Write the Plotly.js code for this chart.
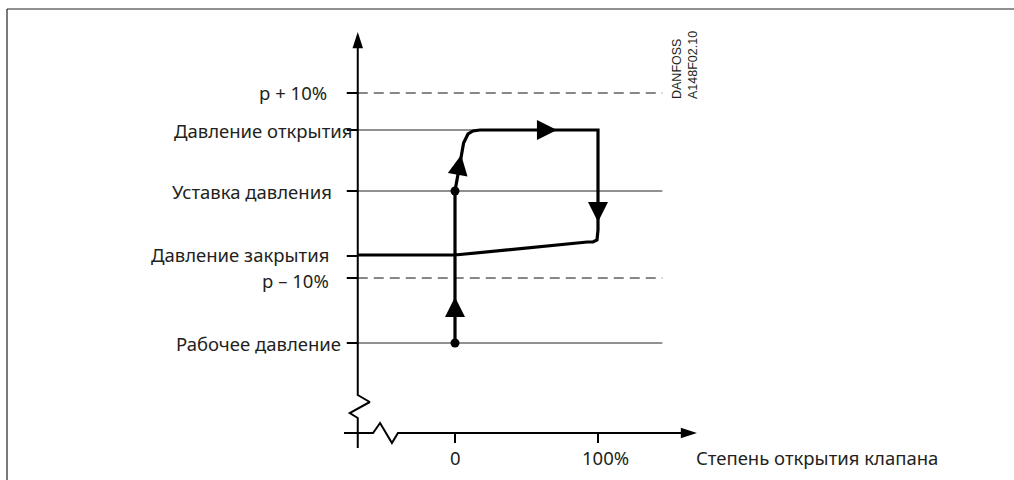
<!DOCTYPE html>
<html>
<head>
<meta charset="utf-8">
<script src="https://cdn.plot.ly/plotly-3.0.1.min.js"></script>
<style>html,body{margin:0;padding:0;background:#fff;}#chart{width:1014px;height:480px;}</style>
</head>
<body>
<div id="chart"></div>
<script>
// ---- data ----
const levelLabels = ['p + 10%', 'Давление открытия', 'Уставка давления', 'Давление закрытия', 'p – 10%', 'Рабочее давление'];
const levelValues = [250, 213, 152, 87, 65, 0];          // pressure levels (relative units)
const levelDashed = [true, false, false, false, true, false];
const levelLineEnd = [145, 18, 145, null, 145, 145];     // valve opening where the thin guide line ends

const valveTickValues = [0, 100];
const valveTickLabels = ['0', '100%'];
const xAxisTitle = 'Степень открытия клапана';

// hysteresis cycle: valve opening (%) vs pressure
const cycleOpening  = [0, 0, 4.9, 6.0, 9.1, 12.6, 17.5, 100, 100, 99.3, 96.5, 92.5, 0, -68];
const cyclePressure = [0, 152, 191, 200, 209, 212, 213, 213, 113, 103, 101, 101, 88, 88];
const cycleDotsX = [0, 0];
const cycleDotsY = [0, 152];

// ---- geometry of the drawing ----
const axisX = -68;           // valve opening where pressure axis sits
const axisY = -90;           // pressure where opening axis sits
const pxPerUnitX = 1.43;
const zeroPx = 455, basePx = 343;
const W = 1014, H = 480;
const xRange = [-zeroPx / pxPerUnitX, (W - zeroPx) / pxPerUnitX];
const yRange = [basePx - H, basePx];

const traces = [];

// thin guide lines for each level
levelValues.forEach((v, i) => {
  if (levelLineEnd[i] === null) return;
  traces.push({
    x: [axisX, levelLineEnd[i]], y: [v, v], mode: 'lines', hoverinfo: 'skip',
    line: {color: levelDashed[i] ? '#111' : '#222', width: 1, dash: levelDashed[i] ? '10px,6px' : 'solid'}
  });
});

// level ticks on pressure axis and valve ticks
const tx = [], ty = [];
levelValues.forEach(v => { tx.push(axisX - 7.7, axisX, null); ty.push(v, v, null); });
valveTickValues.forEach(v => { tx.push(v, v, null); ty.push(axisY, axisY - 10, null); });
traces.push({x: tx, y: ty, mode: 'lines', hoverinfo: 'skip', line: {color: '#000', width: 2}});

// pressure axis with break
traces.push({
  x: [axisX, axisX, axisX + 8.4, axisX - 5.6, axisX, axisX],
  y: [300, -52, -59, -70, -75, -105],
  mode: 'lines', hoverinfo: 'skip', line: {color: '#000', width: 2}
});
// opening axis with break
traces.push({
  x: [-77.6, -57.3, -52.4, -44.1, -39.9, 160],
  y: [axisY, axisY, axisY + 10, axisY - 10, axisY, axisY],
  mode: 'lines', hoverinfo: 'skip', line: {color: '#000', width: 2}
});
// axis arrowheads
traces.push({
  x: [axisX, 169.2], y: [311, axisY], mode: 'markers', hoverinfo: 'skip',
  marker: {symbol: 'arrow', size: 17, color: '#000', angle: [0, 90], line: {width: 0}}
});

// cycle curve
traces.push({
  x: cycleOpening, y: cyclePressure, mode: 'lines', hoverinfo: 'skip',
  line: {color: '#000', width: 3.2}
});
// dots
traces.push({x: cycleDotsX, y: cycleDotsY, mode: 'markers', hoverinfo: 'skip',
  marker: {color: '#000', size: 9, line: {width: 0}}});
// direction arrows on the curve
traces.push({
  x: [0, 4.3, 71.3, 100], y: [46, 188, 213, 121], mode: 'markers', hoverinfo: 'skip',
  marker: {symbol: ['arrow-up', 'arrow-up', 'arrow-right', 'arrow-down'], size: 20, color: '#000',
           angle: [0, 10, 0, 0], line: {width: 0}}
});

// ---- text ----
const txtFont = {family: 'Noto Sans, sans-serif', size: 18.5, color: '#231f20'};
const labelRightPx = [329, 354, 334, 331, 331, 343];
const labelShiftPx = [1, 0, 0, 2, -2, 0];
const annotations = [];
levelValues.forEach((v, i) => {
  annotations.push({
    xref: 'paper', yref: 'y', x: labelRightPx[i] / W, y: v, xanchor: 'right', yanchor: 'middle',
    yshift: labelShiftPx[i], text: levelLabels[i], showarrow: false, font: txtFont
  });
});
const tickLabelPx = [455, 605];
valveTickLabels.forEach((t, i) => {
  annotations.push({
    xref: 'paper', yref: 'paper', x: tickLabelPx[i] / W, y: 1 - 457 / H,
    xanchor: 'center', yanchor: 'middle', text: t, showarrow: false, font: txtFont
  });
});
annotations.push({
  xref: 'paper', yref: 'paper', x: 694 / W, y: 1 - 457 / H, xanchor: 'left', yanchor: 'middle',
  text: xAxisTitle, showarrow: false, font: txtFont
});
annotations.push({
  xref: 'paper', yref: 'paper', x: 685 / W, y: 1 - 65 / H, xanchor: 'center', yanchor: 'middle',
  text: 'DANFOSS<br>A148F02.10', textangle: -90, align: 'left', showarrow: false,
  font: {family: 'Liberation Sans, Arial, sans-serif', size: 12.5, color: '#231f20'}
});

const layout = {
  width: W, height: H, margin: {l: 0, r: 0, t: 0, b: 0},
  paper_bgcolor: '#fff', plot_bgcolor: '#fff', showlegend: false,
  xaxis: {range: xRange, visible: false, fixedrange: true},
  yaxis: {range: yRange, visible: false, fixedrange: true},
  annotations: annotations,
  shapes: [
    {type: 'line', xref: 'paper', yref: 'paper', x0: 7 / W, x1: 1, y0: 1 - 9 / H, y1: 1 - 9 / H, line: {color: '#222', width: 1.2}},
    {type: 'line', xref: 'paper', yref: 'paper', x0: 7 / W, x1: 7 / W, y0: 1 - 9 / H, y1: 0, line: {color: '#222', width: 1.2}}
  ]
};

Plotly.newPlot('chart', traces, layout, {staticPlot: true, displayModeBar: false});
</script>
</body>
</html>
